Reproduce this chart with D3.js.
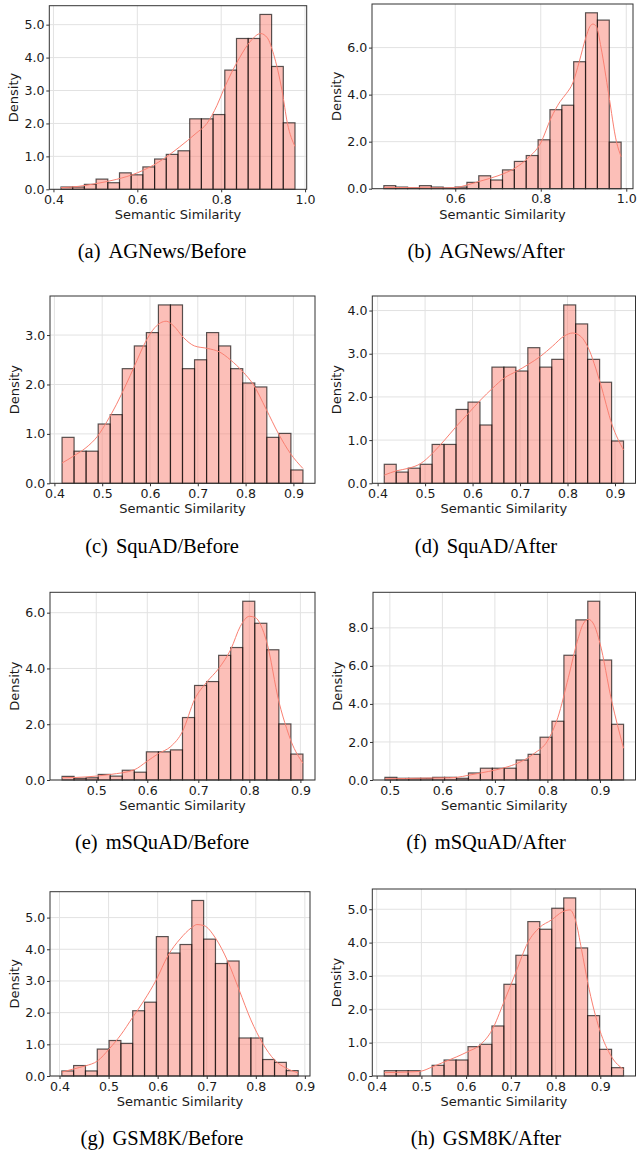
<!DOCTYPE html>
<html>
<head>
<meta charset="utf-8">
<script src="https://cdn.jsdelivr.net/npm/d3@7"></script>
<style>
  body { margin: 0; background: #fff; }
  svg { display: block; }
</style>
</head>
<body>
<script>
// ---- data ----
// bins: [first edge, last edge], 20 equal bins each
const agBeforeBins = [0.418, 0.976];
const agBeforeDensity = [0.07, 0.07, 0.15, 0.31, 0.20, 0.50, 0.44, 0.68, 0.92, 1.06,
                         1.17, 2.14, 2.14, 2.27, 3.62, 4.58, 4.58, 5.31, 3.73, 2.02];
const agBeforeKde = [[0.418,0.05],[0.46,0.09],[0.50,0.17],[0.55,0.30],[0.60,0.50],[0.65,0.82],
                     [0.70,1.28],[0.74,1.70],[0.766,2.0],[0.79,2.55],[0.805,3.0],[0.825,3.55],
                     [0.844,4.0],[0.87,4.5],[0.894,4.73],[0.91,4.6],[0.925,4.1],[0.945,3.0],
                     [0.958,2.0],[0.976,1.3]];

const agAfterBins = [0.433, 0.988];
const agAfterDensity = [0.13, 0.07, 0.03, 0.13, 0.07, 0.03, 0.07, 0.27, 0.55, 0.37,
                        0.80, 1.16, 1.41, 2.08, 3.36, 3.55, 5.40, 7.48, 7.17, 1.98];
const agAfterKde = [[0.433,0.04],[0.47,0.05],[0.52,0.04],[0.56,0.03],[0.60,0.05],[0.63,0.17],
                    [0.66,0.33],[0.70,0.55],[0.74,0.88],[0.77,1.3],[0.80,1.95],[0.824,3.0],
                    [0.845,3.7],[0.86,4.05],[0.875,4.5],[0.89,5.4],[0.905,6.4],[0.915,6.9],
                    [0.922,7.0],[0.93,6.9],[0.941,6.0],[0.959,4.0],[0.977,2.0],[0.988,1.36]];

const sqBeforeBins = [0.416, 0.920];
const sqBeforeDensity = [0.93, 0.65, 0.65, 1.20, 1.39, 2.32, 2.78, 3.05, 3.61, 3.61,
                         2.32, 2.50, 3.05, 2.78, 2.32, 2.03, 1.95, 0.93, 1.01, 0.27];
const sqBeforeKde = [[0.416,0.41],[0.44,0.55],[0.466,0.72],[0.49,0.95],[0.51,1.25],[0.53,1.6],
                     [0.55,2.0],[0.567,2.36],[0.59,2.85],[0.61,3.15],[0.634,3.28],[0.65,3.18],
                     [0.67,2.95],[0.693,2.78],[0.72,2.73],[0.745,2.66],[0.768,2.5],[0.795,2.25],
                     [0.816,2.0],[0.843,1.5],[0.869,1.0],[0.894,0.6],[0.920,0.3]];

const sqAfterBins = [0.414, 0.918];
const sqAfterDensity = [0.44, 0.26, 0.35, 0.44, 0.90, 0.90, 1.71, 1.88, 1.35, 2.69,
                        2.69, 2.60, 3.14, 2.69, 2.87, 4.13, 3.69, 2.87, 2.34, 0.98];
const sqAfterKde = [[0.414,0.19],[0.44,0.29],[0.466,0.35],[0.491,0.46],[0.516,0.70],[0.541,1.0],
                    [0.566,1.32],[0.592,1.63],[0.617,1.93],[0.642,2.2],[0.667,2.44],[0.692,2.59],
                    [0.717,2.75],[0.743,2.94],[0.768,3.17],[0.793,3.41],[0.811,3.48],[0.828,3.40],
                    [0.843,3.15],[0.869,2.32],[0.894,1.35],[0.918,0.77]];

const msqBeforeBins = [0.433, 0.905];
const msqBeforeDensity = [0.13, 0.06, 0.08, 0.20, 0.14, 0.35, 0.28, 1.01, 1.01, 1.08,
                          2.24, 3.39, 3.53, 4.47, 4.75, 6.41, 5.62, 4.67, 2.01, 0.93];
const msqBeforeKde = [[0.433,0.08],[0.48,0.11],[0.528,0.2],[0.575,0.37],[0.598,0.65],[0.622,0.95],
                      [0.646,1.2],[0.669,1.74],[0.693,2.9],[0.716,3.5],[0.74,4.0],[0.764,4.7],
                      [0.782,5.5],[0.80,5.87],[0.811,5.83],[0.834,4.95],[0.858,2.8],[0.873,1.85],
                      [0.882,1.38],[0.905,0.6]];

const msqAfterBins = [0.4906, 0.945];
const msqAfterDensity = [0.14, 0.09, 0.09, 0.09, 0.14, 0.14, 0.09, 0.37, 0.62, 0.62,
                         0.62, 1.05, 1.35, 2.25, 3.09, 6.56, 8.42, 9.40, 6.31, 2.93];
const msqAfterKde = [[0.4906,0.06],[0.53,0.08],[0.57,0.1],[0.60,0.11],[0.627,0.14],[0.65,0.25],
                     [0.675,0.38],[0.70,0.52],[0.725,0.7],[0.75,0.97],[0.775,1.4],[0.80,2.05],
                     [0.82,3.3],[0.84,5.4],[0.857,7.3],[0.868,8.2],[0.878,8.45],[0.888,8.2],
                     [0.90,7.2],[0.922,4.2],[0.945,1.67]];

const gsmBeforeBins = [0.4047, 0.8864];
const gsmBeforeDensity = [0.16, 0.33, 0.16, 0.85, 1.12, 1.03, 2.06, 2.33, 4.40, 3.88,
                          4.15, 5.54, 4.32, 3.55, 3.63, 1.20, 1.20, 0.52, 0.43, 0.17];
const gsmBeforeKde = [[0.4047,0.12],[0.428,0.22],[0.453,0.32],[0.477,0.47],[0.501,0.85],[0.525,1.3],
                      [0.549,1.85],[0.573,2.4],[0.597,3.03],[0.621,3.8],[0.646,4.33],[0.669,4.68],
                      [0.68,4.78],[0.694,4.75],[0.718,4.35],[0.742,3.65],[0.766,2.72],[0.79,1.77],
                      [0.814,1.03],[0.838,0.51],[0.863,0.24],[0.8864,0.1]];

const gsmAfterBins = [0.417, 0.952];
const gsmAfterDensity = [0.16, 0.16, 0.16, 0.00, 0.32, 0.48, 0.48, 0.88, 0.95, 1.50,
                         2.75, 3.62, 4.63, 4.40, 5.03, 5.34, 3.84, 1.81, 0.80, 0.25];
const gsmAfterKde = [[0.417,0.1],[0.445,0.11],[0.47,0.12],[0.497,0.14],[0.524,0.27],[0.551,0.42],
                     [0.578,0.57],[0.604,0.73],[0.631,0.93],[0.658,1.38],[0.684,2.2],[0.711,3.1],
                     [0.738,4.0],[0.764,4.45],[0.791,4.68],[0.815,4.92],[0.832,4.98],[0.845,4.65],
                     [0.858,3.8],[0.872,2.8],[0.899,1.37],[0.925,0.58],[0.952,0.2]];

const xTicksA = [0.4, 0.6, 0.8, 1.0];
const xTicksB = [0.6, 0.8, 1.0];
const xTicks4to9 = [0.4, 0.5, 0.6, 0.7, 0.8, 0.9];
const xTicks5to9 = [0.5, 0.6, 0.7, 0.8, 0.9];
const yTicksBy1 = (n) => d3.range(0, n + 1);
const yTicksBy2 = (n) => d3.range(0, n + 1, 2);

const captions = ["AGNews/Before", "AGNews/After", "SquAD/Before", "SquAD/After",
                  "mSQuAD/Before", "mSQuAD/After", "GSM8K/Before", "GSM8K/After"];

const panels = [
  { bins: agBeforeBins,  density: agBeforeDensity,  kde: agBeforeKde,  xTicks: xTicksA,    yTicks: yTicksBy1(5) },
  { bins: agAfterBins,   density: agAfterDensity,   kde: agAfterKde,   xTicks: xTicksB,    yTicks: yTicksBy2(6) },
  { bins: sqBeforeBins,  density: sqBeforeDensity,  kde: sqBeforeKde,  xTicks: xTicks4to9, yTicks: yTicksBy1(3) },
  { bins: sqAfterBins,   density: sqAfterDensity,   kde: sqAfterKde,   xTicks: xTicks4to9, yTicks: yTicksBy1(4) },
  { bins: msqBeforeBins, density: msqBeforeDensity, kde: msqBeforeKde, xTicks: xTicks5to9, yTicks: yTicksBy2(6) },
  { bins: msqAfterBins,  density: msqAfterDensity,  kde: msqAfterKde,  xTicks: xTicks5to9, yTicks: yTicksBy2(8) },
  { bins: gsmBeforeBins, density: gsmBeforeDensity, kde: gsmBeforeKde, xTicks: xTicks4to9, yTicks: yTicksBy1(5) },
  { bins: gsmAfterBins,  density: gsmAfterDensity,  kde: gsmAfterKde,  xTicks: xTicks4to9, yTicks: yTicksBy1(5) }
];

// ---- layout (pixel boxes of each axes, caption rows) ----
const width = 637;
const height = 1150;
const boxes = [
  { left: 49.3, top: 5.7,   right: 306.7, bottom: 189.3 },
  { left: 372,  top: 4,     right: 633,   bottom: 188.7 },
  { left: 50,   top: 296,   right: 315,   bottom: 483.3 },
  { left: 372.3,top: 296,   right: 635.5, bottom: 483.3 },
  { left: 50,   top: 592.3, right: 315,   bottom: 780 },
  { left: 373,  top: 592.3, right: 635.5, bottom: 780 },
  { left: 50,   top: 891.7, right: 310,   bottom: 1076 },
  { left: 372.3,top: 889,   right: 635.5, bottom: 1076 }
];
const captionY = [258.3, 552.5, 848.5, 1145];
const captionX = [162, 486];

const tickFont = "DejaVu Sans, sans-serif";
const salmon = "#FA8072";

const svg = d3.select("body").append("svg")
    .attr("width", width)
    .attr("height", height)
    .style("background", "#fff");

panels.forEach((p, i) => {
    const box = boxes[i];
    const n = p.density.length;
    const span = p.bins[1] - p.bins[0];
    const binW = span / n;

    // matplotlib-like 5% margins
    const x = d3.scaleLinear()
        .domain([p.bins[0] - span * 0.05, p.bins[1] + span * 0.05])
        .range([box.left, box.right]);
    const yMax = d3.max([...p.density, ...p.kde.map(d => d[1])]) * 1.05;
    const y = d3.scaleLinear()
        .domain([0, yMax])
        .range([box.bottom, box.top]);

    const g = svg.append("g");

    // grid
    g.append("g").selectAll("line").data(p.xTicks).join("line")
        .attr("x1", d => x(d)).attr("x2", d => x(d))
        .attr("y1", box.top).attr("y2", box.bottom)
        .attr("stroke", "#e2e2e2").attr("stroke-width", 1);
    g.append("g").selectAll("line").data(p.yTicks).join("line")
        .attr("x1", box.left).attr("x2", box.right)
        .attr("y1", d => y(d)).attr("y2", d => y(d))
        .attr("stroke", "#e2e2e2").attr("stroke-width", 1);

    // bars
    g.append("g").selectAll("rect").data(p.density).join("rect")
        .attr("x", (d, j) => x(p.bins[0] + j * binW))
        .attr("width", (d, j) => x(p.bins[0] + (j + 1) * binW) - x(p.bins[0] + j * binW))
        .attr("y", d => y(d))
        .attr("height", d => y(0) - y(d))
        .attr("fill", salmon).attr("fill-opacity", 0.5)
        .attr("stroke", "#000").attr("stroke-opacity", 0.65).attr("stroke-width", 1.2)
        .style("display", d => d > 0 ? null : "none");

    // kde
    g.append("path")
        .datum(p.kde)
        .attr("fill", "none")
        .attr("stroke", salmon)
        .attr("stroke-width", 1)
        .attr("d", d3.line().x(d => x(d[0])).y(d => y(d[1])).curve(d3.curveMonotoneX));

    // axes
    const xAxis = g.append("g")
        .attr("transform", `translate(0, ${box.bottom})`)
        .call(d3.axisBottom(x).tickValues(p.xTicks).tickFormat(d3.format(".1f"))
            .tickSize(3).tickSizeOuter(0).tickPadding(2.6));
    const yAxis = g.append("g")
        .attr("transform", `translate(${box.left}, 0)`)
        .call(d3.axisLeft(y).tickValues(p.yTicks).tickFormat(d3.format(".1f"))
            .tickSize(3).tickSizeOuter(0).tickPadding(1.8));
    [xAxis, yAxis].forEach(a => {
        a.select(".domain").remove();
        a.selectAll(".tick line").attr("stroke", "#333");
        a.selectAll(".tick text")
            .attr("fill", "#1a1a1a")
            .style("font-family", tickFont)
            .style("font-size", "12.6px");
    });

    // spines
    g.append("rect")
        .attr("x", box.left).attr("y", box.top)
        .attr("width", box.right - box.left).attr("height", box.bottom - box.top)
        .attr("fill", "none").attr("stroke", "#333").attr("stroke-width", 1);

    // labels
    g.append("text")
        .attr("x", (box.left + box.right) / 2)
        .attr("y", box.bottom + 30)
        .attr("text-anchor", "middle")
        .style("font-family", tickFont).style("font-size", "13px")
        .attr("fill", "#1a1a1a")
        .text("Semantic Similarity");
    g.append("text")
        .attr("transform", `translate(${box.left - 35.5}, ${(box.top + box.bottom) / 2}) rotate(-90)`)
        .attr("dy", "0.36em")
        .attr("text-anchor", "middle")
        .style("font-family", tickFont).style("font-size", "13px")
        .attr("fill", "#1a1a1a")
        .text("Density");

    // caption
    const cap = svg.append("text")
        .attr("x", captionX[i % 2])
        .attr("y", captionY[Math.floor(i / 2)])
        .attr("text-anchor", "middle")
        .style("font-family", "Liberation Serif, Times New Roman, serif")
        .style("font-size", "20.5px")
        .attr("fill", "#000");
    cap.append("tspan").text("(" + "abcdefgh"[i] + ")");
    cap.append("tspan").attr("dx", 8).text(captions[i]);
});
</script>
</body>
</html>
